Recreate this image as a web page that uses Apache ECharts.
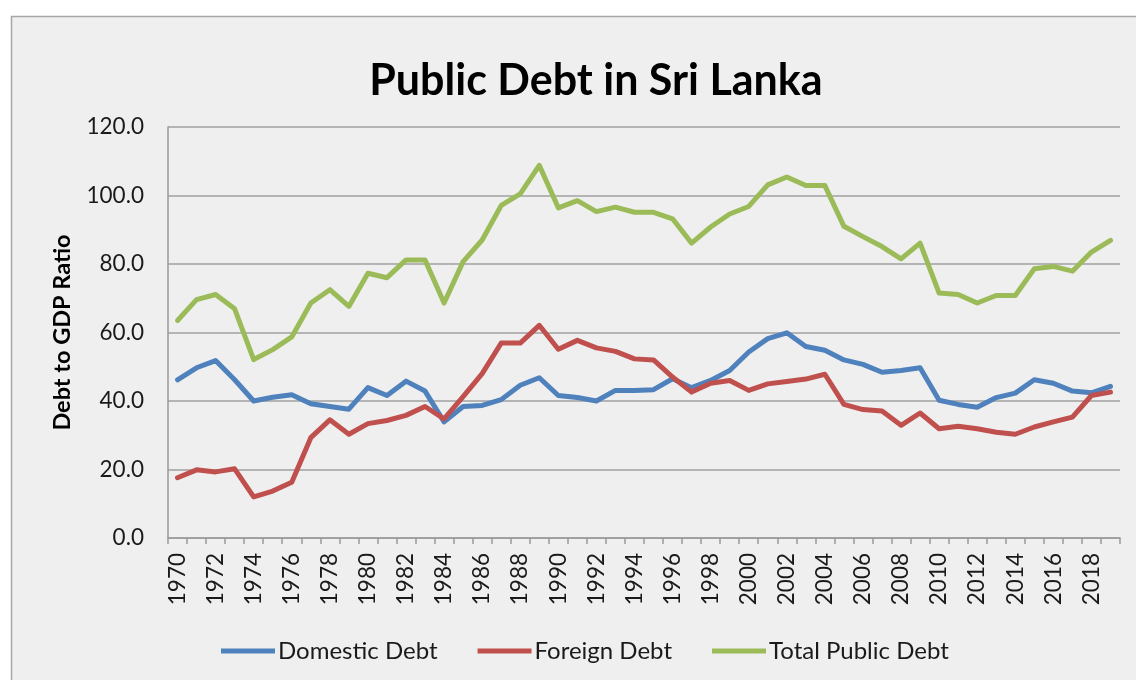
<!DOCTYPE html>
<html>
<head>
<meta charset="utf-8">
<title>Public Debt in Sri Lanka</title>
<script src="https://cdn.jsdelivr.net/npm/echarts@6/dist/echarts.min.js"></script>
<style>
  html, body { margin: 0; padding: 0; background: #ffffff; }
  #chart { width: 1136px; height: 680px; }
</style>
</head>
<body>
<div id="chart"></div>
<script>
// Debt to GDP ratio (%), Sri Lanka, 1970-2019
const years = [];
for (let y = 1970; y <= 2019; y++) years.push(String(y));

const domesticDebt = [
  46.2, 49.7, 51.8, 46.2, 40.0, 41.1, 41.8, 39.2, 38.4, 37.6,
  43.9, 41.6, 45.8, 42.9, 33.9, 38.4, 38.7, 40.4, 44.6, 46.8,
  41.6, 41.0, 40.0, 43.1, 43.1, 43.3, 46.5, 43.9, 46.0, 48.9,
  54.3, 58.2, 59.9, 55.9, 54.8, 52.0, 50.7, 48.4, 48.9, 49.7,
  40.2, 39.0, 38.2, 41.0, 42.3, 46.2, 45.2, 42.9, 42.4, 44.3
];

const foreignDebt = [
  17.6, 19.9, 19.3, 20.2, 12.0, 13.7, 16.3, 29.3, 34.5, 30.3,
  33.4, 34.3, 35.8, 38.4, 34.8, 41.3, 48.0, 56.9, 56.9, 62.1,
  55.1, 57.7, 55.5, 54.5, 52.3, 52.0, 47.0, 42.6, 45.2, 46.0,
  43.1, 45.0, 45.7, 46.4, 47.8, 39.0, 37.5, 37.1, 32.9, 36.5,
  31.9, 32.6, 31.9, 30.9, 30.3, 32.4, 33.9, 35.3, 41.6, 42.6
];

const totalDebt = [
  63.5, 69.6, 71.1, 66.9, 52.1, 55.0, 58.7, 68.6, 72.5, 67.6,
  77.3, 76.0, 81.2, 81.2, 68.6, 80.7, 87.0, 97.1, 100.5, 108.8,
  96.4, 98.5, 95.3, 96.6, 95.1, 95.1, 93.2, 86.1, 90.8, 94.6,
  96.8, 103.1, 105.4, 102.9, 102.9, 91.0, 88.0, 85.1, 81.5, 86.1,
  71.5, 71.1, 68.6, 70.8, 70.8, 78.6, 79.3, 77.9, 83.5, 86.9
];

const seriesNames = ['Domestic Debt', 'Foreign Debt', 'Total Public Debt'];
const seriesColors = ['#4f81bd', '#c0504d', '#9bbb59'];

const FONT = 'Lato, "Open Sans", sans-serif';

const chart = echarts.init(document.getElementById('chart'), null, { renderer: 'canvas' });

function lineSeries(name, data, color) {
  return {
    name: name,
    type: 'line',
    data: data,
    symbol: 'none',
    smooth: false,
    lineStyle: { color: color, width: 5, cap: 'round', join: 'round' },
    itemStyle: { color: color },
    emphasis: { disabled: true }
  };
}

chart.setOption({
  animation: false,
  backgroundColor: '#ffffff',
  graphic: [{
    type: 'rect',
    z: -10,
    silent: true,
    shape: { x: 11.5, y: 16.5, width: 1200, height: 720 },
    style: { fill: '#efefef', stroke: '#a6a6a6', lineWidth: 1.5 }
  }],
  title: {
    text: 'Public Debt in Sri Lanka',
    left: 591,
    top: 55,
    textAlign: 'center',
    textStyle: { fontFamily: FONT, fontWeight: 'bold', fontSize: 43, color: '#000000' }
  },
  legend: {
    data: seriesNames,
    left: 216,
    top: 634,
    icon: 'rect',
    itemWidth: 54,
    itemHeight: 5,
    itemGap: 40,
    textStyle: { fontFamily: FONT, fontSize: 24, color: '#1a1a1a', padding: [0, 0, 0, -2] }
  },
  grid: { left: 168, right: 16, top: 127, bottom: 142, containLabel: false },
  xAxis: {
    type: 'category',
    data: years,
    boundaryGap: true,
    axisLine: { lineStyle: { color: '#9a9a9a', width: 1.5 } },
    axisTick: { show: true, interval: 0, length: 6, lineStyle: { color: '#9a9a9a', width: 1.5 } },
    axisLabel: {
      interval: 1,
      rotate: 90,
      margin: 15,
      fontFamily: FONT,
      fontSize: 22.5,
      color: '#1a1a1a'
    },
    splitLine: { show: false }
  },
  yAxis: {
    type: 'value',
    min: 0,
    max: 120,
    interval: 20,
    name: 'Debt to GDP Ratio',
    nameLocation: 'middle',
    nameGap: 94,
    nameTextStyle: { fontFamily: FONT, fontWeight: 'bold', fontSize: 23.5, color: '#000000' },
    axisLine: { show: true, lineStyle: { color: '#9a9a9a', width: 1.5 } },
    axisTick: { show: false },
    axisLabel: {
      margin: 24,
      fontFamily: FONT,
      fontSize: 22.5,
      color: '#1a1a1a',
      formatter: function (v) { return v.toFixed(1); }
    },
    splitLine: { show: true, lineStyle: { color: '#a0a0a0', width: 1.5 } }
  },
  series: [
    lineSeries(seriesNames[0], domesticDebt, seriesColors[0]),
    lineSeries(seriesNames[1], foreignDebt, seriesColors[1]),
    lineSeries(seriesNames[2], totalDebt, seriesColors[2])
  ]
});
</script>
</body>
</html>
